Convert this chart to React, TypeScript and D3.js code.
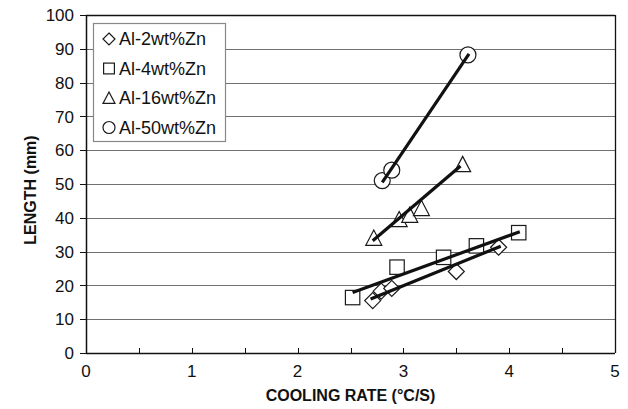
import React from "react";
import * as d3 from "d3";

const seriesNames = ["Al-2wt%Zn", "Al-4wt%Zn", "Al-16wt%Zn", "Al-50wt%Zn"];
const seriesShapes = ["diamond", "square", "triangle", "circle"];

const zn2X = [2.71, 2.79, 2.89, 3.5, 3.9];
const zn2Y = [15.5, 18.3, 19.1, 24.1, 31.3];
const zn4X = [2.52, 2.94, 3.38, 3.69, 4.09];
const zn4Y = [16.4, 25.4, 28.3, 31.7, 35.6];
const zn16X = [2.72, 2.96, 3.06, 3.17, 3.56];
const zn16Y = [34.0, 39.5, 40.8, 42.8, 55.8];
const zn50X = [2.8, 2.89, 3.61];
const zn50Y = [51.0, 54.1, 88.2];

// trend line endpoints [x1, y1, x2, y2]
const fit2 = [2.69, 16.0, 3.92, 31.6];
const fit4 = [2.52, 17.9, 4.1, 35.9];
const fit16 = [2.71, 33.2, 3.54, 55.3];
const fit50 = [2.8, 50.5, 3.62, 88.5];

const xTicks = [0, 1, 2, 3, 4, 5];
const xMinorTicks = [0.5, 1, 1.5, 2, 2.5, 3, 3.5, 4, 4.5];
const yTicks = [0, 10, 20, 30, 40, 50, 60, 70, 80, 90, 100];

const xTitle = "COOLING RATE (°C/S)";
const yTitle = "LENGTH (mm)";

const W = 628;
const H = 409;
const L = 86, R = 615, T = 15, B = 353;

const font = "Arial, 'Liberation Sans', Helvetica, sans-serif";

function Marker({ shape, cx, cy, s }: { shape: string; cx: number; cy: number; s: number }) {
  const st = { fill: "white", stroke: "#1a1a1a", strokeWidth: 1.2 } as any;
  if (shape === "diamond") {
    const h = s / 2;
    return <path d={`M${cx},${cy - h}L${cx + h},${cy}L${cx},${cy + h}L${cx - h},${cy}Z`} {...st} />;
  }
  if (shape === "square") {
    const h = s * 0.45;
    return <rect x={cx - h} y={cy - h} width={2 * h} height={2 * h} {...st} />;
  }
  if (shape === "triangle") {
    const h = s / 2;
    return <path d={`M${cx},${cy - h}L${cx + h},${cy + h * 0.9}L${cx - h},${cy + h * 0.9}Z`} {...st} />;
  }
  return <circle cx={cx} cy={cy} r={s / 2} {...st} />;
}

export default function App() {
  const x = d3.scaleLinear().domain([0, 5]).range([L, R]);
  const y = d3.scaleLinear().domain([0, 100]).range([B, T]);

  const xs = [zn2X, zn4X, zn16X, zn50X];
  const ys = [zn2Y, zn4Y, zn16Y, zn50Y];
  const fits = [fit2, fit4, fit16, fit50];
  const line = d3.line<number[]>().x((d) => x(d[0])).y((d) => y(d[1]));

  return (
    <svg width={W} height={H} style={{ position: "absolute", left: 0, top: 0, background: "white" }}>
      <rect x={0} y={0} width={W} height={H} fill="white" />
      {/* gridlines */}
      {yTicks.filter((t) => t > 0 && t < 100).map((t) => (
        <line key={t} x1={L} x2={R} y1={Math.round(y(t)) + 0.5} y2={Math.round(y(t)) + 0.5} stroke="#707070" strokeWidth={1.2} />
      ))}
      {/* frame */}
      <line x1={L} x2={R} y1={T + 0.5} y2={T + 0.5} stroke="#111" strokeWidth={1.3} />
      <line x1={R + 0.5} x2={R + 0.5} y1={T} y2={B} stroke="#111" strokeWidth={1.3} />
      <line x1={L + 0.5} x2={L + 0.5} y1={T} y2={B} stroke="#111" strokeWidth={1.5} />
      <line x1={L} x2={R} y1={B + 0.5} y2={B + 0.5} stroke="#111" strokeWidth={1.5} />
      {/* y ticks */}
      {yTicks.map((t) => (
        <g key={t}>
          <line x1={L - 6} x2={L} y1={Math.round(y(t)) + 0.5} y2={Math.round(y(t)) + 0.5} stroke="#111" strokeWidth={1} />
          <text x={L - 12} y={y(t)} dy="0.36em" textAnchor="end" fontFamily={font} fontSize={17} fill="#111">{t}</text>
        </g>
      ))}
      {/* x ticks */}
      {xMinorTicks.map((t) => (
        <line key={t} x1={Math.round(x(t)) + 0.5} x2={Math.round(x(t)) + 0.5} y1={B - 5} y2={B} stroke="#111" strokeWidth={1} />
      ))}
      {xTicks.map((t) => (
        <text key={t} x={x(t)} y={B + 24} textAnchor="middle" fontFamily={font} fontSize={17} fill="#111">{t}</text>
      ))}
      {/* axis titles */}
      <text x={(L + R) / 2} y={H - 8} textAnchor="middle" fontFamily={font} fontSize={16} fontWeight="bold" fill="#111">{xTitle}</text>
      <text transform={`translate(36,${(T + B) / 2 + 6}) rotate(-90)`} textAnchor="middle" fontFamily={font} fontSize={16} fontWeight="bold" fill="#111">{yTitle}</text>
      {/* markers */}
      {xs.map((sx, i) => (
        <g key={i}>
          {sx.map((v, j) => (
            <Marker key={j} shape={seriesShapes[i]} cx={x(v)} cy={y(ys[i][j])} s={16} />
          ))}
        </g>
      ))}
      {/* trend lines */}
      {fits.map((f, i) => (
        <path key={i} d={line([[f[0], f[1]], [f[2], f[3]]]) || ""} stroke="#111" strokeWidth={3.2} fill="none" />
      ))}
      {/* legend */}
      <rect x={93.5} y={23.5} width={132} height={118} fill="white" stroke="#888" strokeWidth={1.2} />
      {seriesNames.map((n, i) => {
        const cy = 39 + i * 29.5;
        return (
          <g key={n}>
            <Marker shape={seriesShapes[i]} cx={109} cy={cy} s={12} />
            <text x={119} y={cy} dy="0.36em" fontFamily={font} fontSize={18} fill="#111">{n}</text>
          </g>
        );
      })}
    </svg>
  );
}
